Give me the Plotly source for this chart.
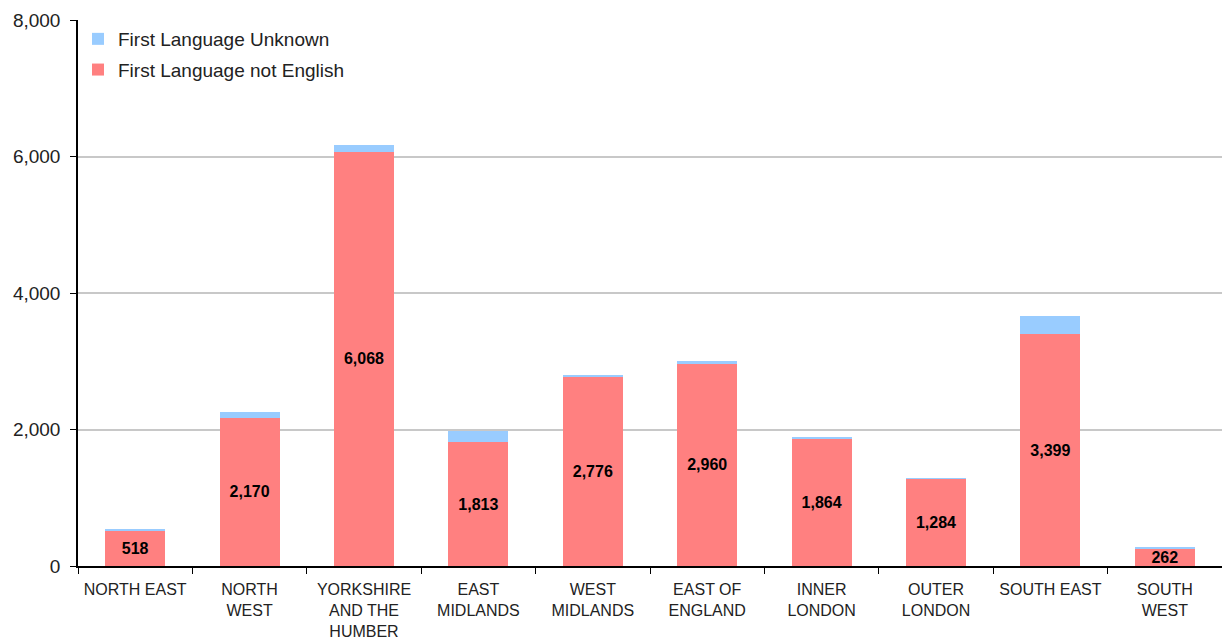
import plotly.graph_objects as go

regions = [
    "NORTH EAST", "NORTH<br>WEST", "YORKSHIRE<br>AND THE<br>HUMBER", "EAST<br>MIDLANDS",
    "WEST<br>MIDLANDS", "EAST OF<br>ENGLAND", "INNER<br>LONDON", "OUTER<br>LONDON",
    "SOUTH EAST", "SOUTH<br>WEST",
]
not_english = [518, 2170, 6068, 1813, 2776, 2960, 1864, 1284, 3399, 262]
unknown = [30, 80, 100, 170, 20, 45, 15, 5, 270, 15]

y_ticks = [0, 2000, 4000, 6000, 8000]

font_family = "Liberation Sans, Arial, sans-serif"

fig = go.Figure()
fig.add_trace(go.Bar(
    x=regions, y=not_english, name="First Language not English",
    legendgroup="ne", legendrank=2,
    marker=dict(color="#FF8080", line=dict(width=0)),
    text=[f"<b>{v:,}</b>" for v in not_english],
    textposition="inside", insidetextanchor="middle",
    textfont=dict(size=16, color="black", family=font_family),
))
fig.add_trace(go.Bar(
    x=regions, y=unknown, name="First Language Unknown",
    legendgroup="unk", legendrank=1,
    marker=dict(color="#99CCFF", line=dict(width=0)),
))

fig.update_layout(
    barmode="stack",
    bargap=0.475,
    width=1222, height=643,
    margin=dict(l=78, r=0, t=20, b=77),
    paper_bgcolor="white", plot_bgcolor="white",
    font=dict(family=font_family, color="#000000"),
    uniformtext=dict(minsize=16, mode="show"),
    legend=dict(
        x=0.0, y=1.0, xanchor="left", yanchor="top",
        font=dict(size=19, color="#222222"),
        bgcolor="rgba(0,0,0,0)", traceorder="grouped",
        itemwidth=30, tracegroupgap=3,
    ),
    showlegend=True,
)
fig.update_yaxes(
    range=[0, 8000], tickvals=y_ticks, tickformat=",",
    showgrid=True, gridcolor="#C8C8C8", gridwidth=1.5,
    showline=True, linecolor="black", linewidth=1.5,
    ticks="outside", ticklen=6, tickcolor="black", ticklabelstandoff=6,
    tickfont=dict(size=19, color="#222222"), zeroline=False,
)
fig.update_xaxes(
    showline=True, linecolor="black", linewidth=1.5,
    ticks="outside", ticklen=6, tickcolor="black", tickson="boundaries",
    ticklabelstandoff=8,
    tickfont=dict(size=16, color="#222222"), tickangle=0,
)

fig.write_html("out.html")
